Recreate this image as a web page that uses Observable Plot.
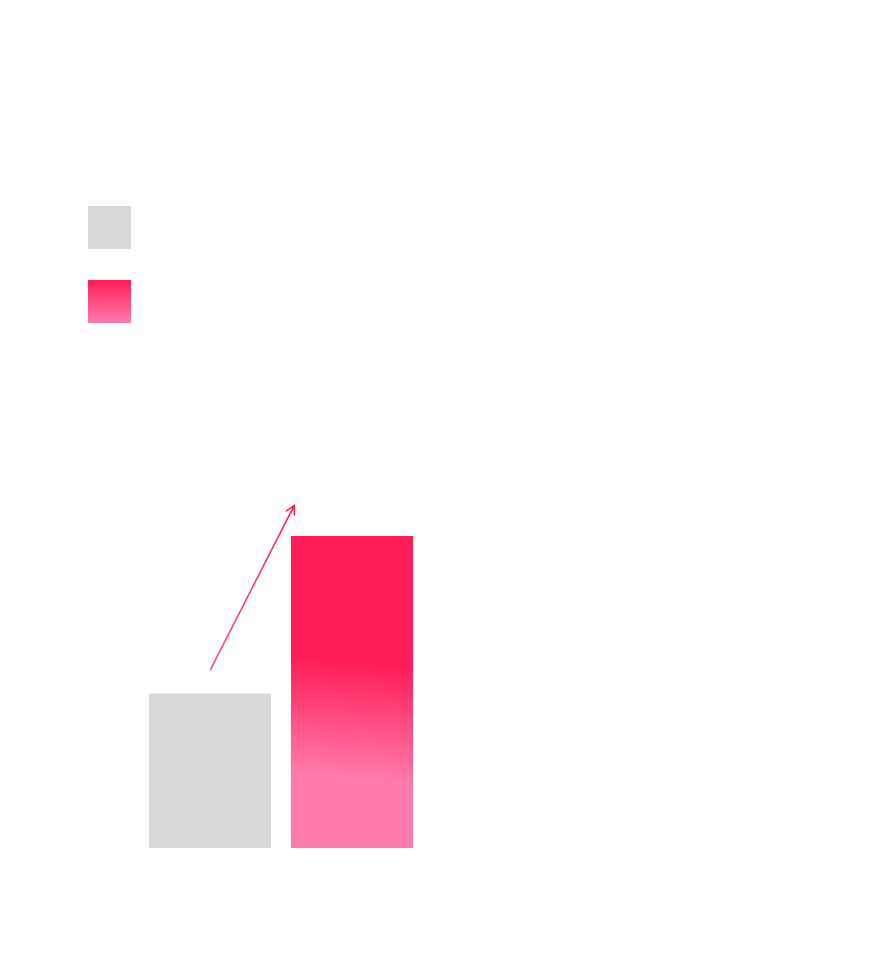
<!DOCTYPE html>
<html>
<head>
<meta charset="utf-8">
<script src="https://cdn.jsdelivr.net/npm/d3@7"></script>
<script src="https://cdn.jsdelivr.net/npm/@observablehq/plot@0.6"></script>
<style>
  html, body { margin: 0; padding: 0; background: #ffffff; }
  #wrap { position: relative; width: 882px; height: 963px; }
  .legend { position: absolute; left: 88px; top: 206px; }
  .swatch { width: 43px; height: 43px; margin-bottom: 31px; }
  .sw-gray { background: #d9d9d9; }
  .sw-pink { background: linear-gradient(to bottom, #ff1d58, #ff7bac); }
</style>
</head>
<body>
<div id="wrap">
  <div class="legend">
    <div class="swatch sw-gray"></div>
    <div class="swatch sw-pink"></div>
  </div>
</div>
<script>
// ---- data ----
const categories = ["Before", "After"];
const values = [49.5, 100];
const arrowX1 = [0.43];
const arrowY1 = [57.4];
const arrowX2 = [1.02];
const arrowY2 = [110];

const bars = categories.map((c, i) => ({category: c, i, value: values[i]}));
const arrows = arrowX1.map((x, i) => ({x1: x, y1: arrowY1[i], x2: arrowX2[i], y2: arrowY2[i]}));

const chart = Plot.plot({
  width: 882,
  height: 963,
  marginLeft: 149,
  marginRight: 449,
  marginTop: 536,
  marginBottom: 115,
  x: {type: "linear", domain: [0, 2], axis: null},
  y: {domain: [0, 100], axis: null},
  marks: [
    Plot.rectY(bars.filter(d => d.i === 0), {
      x1: "i", x2: d => d.i + 1, y: "value", fill: "#d9d9d9", insetRight: 20
    }),
    Plot.rectY(bars.filter(d => d.i === 1), {
      x1: "i", x2: d => d.i + 1, y: "value", fill: "url(#pinkBar)", insetRight: 20
    }),
    Plot.arrow(arrows, {
      x1: "x1", y1: "y1", x2: "x2", y2: "y2",
      stroke: "url(#arrowGrad)", strokeWidth: 1.6, headLength: 9, headAngle: 55
    })
  ]
});

d3.select(chart).insert("defs", ":first-child").html(`
  <linearGradient id="pinkBar" x1="0.03" y1="0" x2="0" y2="1">
    <stop offset="0" stop-color="#ff1d58"/>
    <stop offset="0.39" stop-color="#ff1d58"/>
    <stop offset="0.76" stop-color="#ff7bac"/>
    <stop offset="1" stop-color="#ff7bac"/>
  </linearGradient>
  <linearGradient id="arrowGrad" x1="0" y1="1" x2="1" y2="0">
    <stop offset="0" stop-color="#ff4f82"/>
    <stop offset="1" stop-color="#ff1d58"/>
  </linearGradient>
`);

chart.style.position = "absolute";
chart.style.left = "0";
chart.style.top = "0";
chart.style.background = "transparent";
document.getElementById("wrap").prepend(chart);
</script>
</body>
</html>
